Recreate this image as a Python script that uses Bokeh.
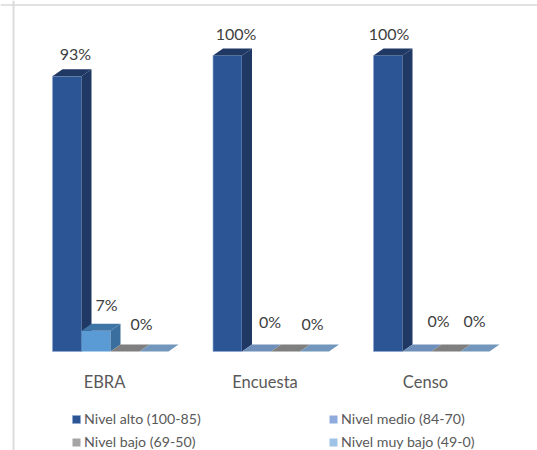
from bokeh.plotting import figure
from bokeh.models import ColumnDataSource, FixedTicker, Legend, LegendItem, Range1d, Span
from bokeh.core.properties import value
from bokeh.embed import file_html
from bokeh.resources import INLINE

categories = ["EBRA", "Encuesta", "Censo"]
series_names = ["Nivel alto (100-85)", "Nivel medio (84-70)", "Nivel bajo (69-50)", "Nivel muy bajo (49-0)"]
alto = [93, 100, 100]
medio = [7, 0, 0]
bajo = [0, 0, 0]
muy_bajo = [0, 0, 0]
series = [alto, medio, bajo, muy_bajo]

# styling
front = [["#2C5596"] * 3, ["#5B9BD5", "#8FAADC", "#8FAADC"], ["#A5A5A5"] * 3, ["#9DC3E6"] * 3]
side = [["#1F3864"] * 3, ["#3A6E9E", "#6F8FBB", "#6F8FBB"], ["#7F7F7F"] * 3, ["#7397BC"] * 3]
top = [["#1F3864"] * 3, ["#3F74A6", "#6F8FBB", "#6F8FBB"], ["#7F7F7F"] * 3, ["#7397BC"] * 3]
halo = ["#8FA8CF", None, None, None]

PX_X = 160.5   # px per category
PX_Y = 2.96    # px per percent
W, H = 537, 450
X0, Y0 = 110, 351      # px of first category centre and of the baseline
bw = 29 / PX_X
dx = 10 / PX_X
dy = 7 / PX_Y

p = figure(width=W, height=H, output_backend="svg", toolbar_location=None,
           margin=0, min_border=0,
           x_range=Range1d(-X0 / PX_X, (W - X0) / PX_X),
           y_range=Range1d((Y0 - H) / PX_Y, Y0 / PX_Y))
p.outline_line_color = None
p.grid.visible = False
p.yaxis.visible = False
p.background_fill_color = "white"

# chart border (left and top rules of the pasted picture)
p.add_layout(Span(location=(13 - X0) / PX_X, dimension="height", line_color="#DCDCDC", line_width=2))
p.add_layout(Span(location=(Y0 - 4.5) / PX_Y, dimension="width", line_color="#D9D9D9", line_width=1.5))

renderers = []
for s, vals in enumerate(series):
    xl = [i + (s - 2) * bw for i in range(3)]
    xr = [x + bw for x in xl]
    src = ColumnDataSource(dict(x=[(a + b) / 2 for a, b in zip(xl, xr)], v=vals, c=front[s]))
    r = p.vbar(x="x", top="v", bottom=0, width=bw, fill_color="c", line_color=halo[s],
               line_width=1, line_alpha=0.7, source=src)
    renderers.append(r)
    p.patches([[b, b + dx, b + dx, b] for b in xr],
              [[0, dy, v + dy, v] for v in vals], fill_color=side[s], line_color=None)
    p.patches([[a, a + dx, b + dx, b] for a, b in zip(xl, xr)],
              [[v, v + dy, v + dy, v] for v in vals], fill_color=top[s], line_color=None)

# data labels (value labels of the first three series)
label_dx = [[8.5, 8.5, 1], [10.5, 13.5, 21.5], [16.5, 27, 28.5]]
label_dy = [[-23, -22, -22], [-26, -30, -31], [-28, -28, -31]]
lx, ly, lt, lxo, lyo = [], [], [], [], []
for s in range(3):
    for i in range(3):
        lx.append(i + (s - 2) * bw + bw / 2)
        ly.append(series[s][i])
        lt.append(f"{series[s][i]}%")
        lxo.append(label_dx[s][i])
        lyo.append(label_dy[s][i])
p.text(x=lx, y=ly, text=lt, x_offset=lxo, y_offset=lyo,
       text_font=value("Lato"), text_font_size="16px", text_color="#404040",
       text_align="center", text_baseline="middle")

# category axis
ax = p.xaxis[0]
ax.fixed_location = 0
ax.ticker = FixedTicker(ticks=[i - 6 / PX_X for i in range(3)])
ax.major_label_overrides = {i - 6 / PX_X: c for i, c in enumerate(categories)}
ax.axis_line_color = None
ax.major_tick_line_color = None
ax.minor_tick_line_color = None
ax.major_label_standoff = 14
ax.major_label_text_font = "Lato"
ax.major_label_text_font_size = "16.5px"
ax.major_label_text_color = "#595959"

# legend: two independent columns
def make_legend(items, x):
    leg = Legend(items=items, location=(x, 0), orientation="vertical", padding=0, margin=0,
                 spacing=6, glyph_width=10, glyph_height=10, label_height=16, label_standoff=3,
                 label_text_font="Lato", label_text_font_size="14.2px", label_text_color="#595959",
                 border_line_color=None, background_fill_alpha=0)
    p.add_layout(leg, "center")

make_legend([LegendItem(label=series_names[0], renderers=[renderers[0]], index=0),
             LegendItem(label=series_names[2], renderers=[renderers[2]], index=0)], 71)
make_legend([LegendItem(label=series_names[1], renderers=[renderers[1]], index=1),
             LegendItem(label=series_names[3], renderers=[renderers[3]], index=0)], 328)

open("out.html", "w").write(file_html(p, INLINE))
